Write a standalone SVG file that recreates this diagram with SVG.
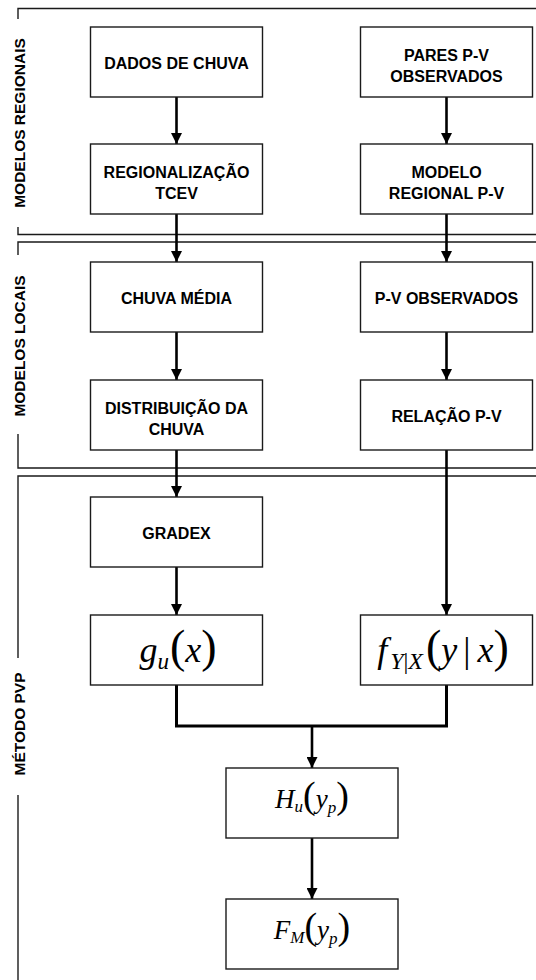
<svg xmlns="http://www.w3.org/2000/svg" width="536" height="980" viewBox="0 0 536 980">
<defs>
<marker id="arr" markerUnits="userSpaceOnUse" markerWidth="11" markerHeight="11" refX="11" refY="5.5" orient="auto">
<path d="M0,0 L11,5.5 L0,11 z" fill="#000"/>
</marker>
<style>
.box{fill:#fff;stroke:#1a1a1a;stroke-width:1.4}
.frame{fill:none;stroke:#1a1a1a;stroke-width:1.4}
.t{font-family:"Liberation Sans",Arial,sans-serif;font-weight:bold;font-size:16px;fill:#000;text-anchor:middle}
.lab{font-family:"Liberation Sans",Arial,sans-serif;font-weight:bold;font-size:15.5px;fill:#000;text-anchor:middle}
.m{font-family:"Liberation Serif","Times New Roman",serif;fill:#000;text-anchor:middle}
.i{font-style:italic}
.c{fill:none;stroke:#000;stroke-width:2.6}
.ca{fill:none;stroke:#000;stroke-width:2.6;marker-end:url(#arr)}
</style>
</defs>
<rect width="536" height="980" fill="#fff"/>

<g id="frames">
<path class="frame" d="M18,19 V8.5 H536"/>
<path class="frame" d="M18,227 V234.5 H536"/>
<path class="frame" d="M18,255 V242 H536"/>
<path class="frame" d="M18,434 V468 H536"/>
<path class="frame" d="M18,658 V476 H536"/>
<path class="frame" d="M18,795 V980"/>
<text class="lab" transform="translate(24.5,123) rotate(-90)">MODELOS REGIONAIS</text>
<text class="lab" transform="translate(24.5,346) rotate(-90)">MODELOS LOCAIS</text>
<text class="lab" transform="translate(24.5,724) rotate(-90)">MÉTODO PVP</text>
</g>

<g id="connectors">
<path class="ca" d="M176.5,97 V144"/>
<path class="ca" d="M176.5,214 V262"/>
<path class="ca" d="M176.5,332 V380"/>
<path class="ca" d="M176.5,450 V497"/>
<path class="ca" d="M176.5,567 V615"/>
<path class="ca" d="M446.5,97 V144"/>
<path class="ca" d="M446.5,214 V262"/>
<path class="ca" d="M446.5,332 V380"/>
<path class="ca" d="M446.5,450 V615"/>
<path class="c" style="stroke-width:3" d="M176.5,685 V726 H446.5 V685"/>
<path class="ca" d="M312,726 V768"/>
<path class="ca" d="M312,838 V899"/>
</g>

<g id="dados">
<rect class="box" x="90.5" y="27" width="172" height="70"/>
<text class="t" x="176.5" y="68.5">DADOS DE CHUVA</text>
</g>
<g id="pares">
<rect class="box" x="360.5" y="27" width="172" height="70"/>
<text class="t" x="446.5" y="61">PARES P-V</text>
<text class="t" x="446.5" y="81.5">OBSERVADOS</text>
</g>
<g id="regionalizacao">
<rect class="box" x="90.5" y="144" width="172" height="70"/>
<text class="t" x="176.5" y="178">REGIONALIZAÇÃO</text>
<text class="t" x="176.5" y="198.5">TCEV</text>
</g>
<g id="modelo">
<rect class="box" x="360.5" y="144" width="172" height="70"/>
<text class="t" x="446.5" y="178">MODELO</text>
<text class="t" x="446.5" y="198.5">REGIONAL P-V</text>
</g>
<g id="chuvamedia">
<rect class="box" x="90.5" y="262" width="172" height="70"/>
<text class="t" x="176.5" y="303.5">CHUVA MÉDIA</text>
</g>
<g id="pvobs">
<rect class="box" x="360.5" y="262" width="172" height="70"/>
<text class="t" x="446.5" y="303.5">P-V OBSERVADOS</text>
</g>
<g id="distribuicao">
<rect class="box" x="90.5" y="380" width="172" height="70"/>
<text class="t" x="176.5" y="414">DISTRIBUIÇÃO DA</text>
<text class="t" x="176.5" y="434.5">CHUVA</text>
</g>
<g id="relacao">
<rect class="box" x="360.5" y="380" width="172" height="70"/>
<text class="t" x="446.5" y="421.5">RELAÇÃO P-V</text>
</g>
<g id="gradex">
<rect class="box" x="90.5" y="497" width="172" height="70"/>
<text class="t" x="176.5" y="538.5">GRADEX</text>
</g>
<g id="gu">
<rect class="box" x="90.5" y="615" width="172" height="70"/>
<text class="m" x="178" y="662"><tspan class="i" font-size="36">g</tspan><tspan class="i" font-size="23" dy="7">u</tspan><tspan font-size="46" dy="-7" dx="1">(</tspan><tspan class="i" font-size="36">x</tspan><tspan font-size="46">)</tspan></text>
</g>
<g id="fyx">
<rect class="box" x="360.5" y="615" width="172" height="70"/>
<text class="m" x="443" y="662"><tspan class="i" font-size="36">f</tspan><tspan class="i" font-size="24" dy="7" dx="3">Y</tspan><tspan font-size="24">|</tspan><tspan class="i" font-size="24">X</tspan><tspan font-size="46" dy="-7" dx="3">(</tspan><tspan class="i" font-size="36">y</tspan><tspan font-size="36" dx="6">|</tspan><tspan class="i" font-size="36" dx="7">x</tspan><tspan font-size="46">)</tspan></text>
</g>
<g id="hu">
<rect class="box" x="226" y="768" width="172" height="70"/>
<text class="m" x="312" y="808"><tspan class="i" font-size="27">H</tspan><tspan class="i" font-size="17" dy="4">u</tspan><tspan font-size="38" dy="-4">(</tspan><tspan class="i" font-size="27">y</tspan><tspan class="i" font-size="17" dy="5">p</tspan><tspan font-size="38" dy="-5">)</tspan></text>
</g>
<g id="fm">
<rect class="box" x="226" y="899" width="172" height="70"/>
<text class="m" x="312" y="939"><tspan class="i" font-size="27">F</tspan><tspan class="i" font-size="17" dy="4">M</tspan><tspan font-size="38" dy="-4">(</tspan><tspan class="i" font-size="27">y</tspan><tspan class="i" font-size="17" dy="5">p</tspan><tspan font-size="38" dy="-5">)</tspan></text>
</g>
</svg>
